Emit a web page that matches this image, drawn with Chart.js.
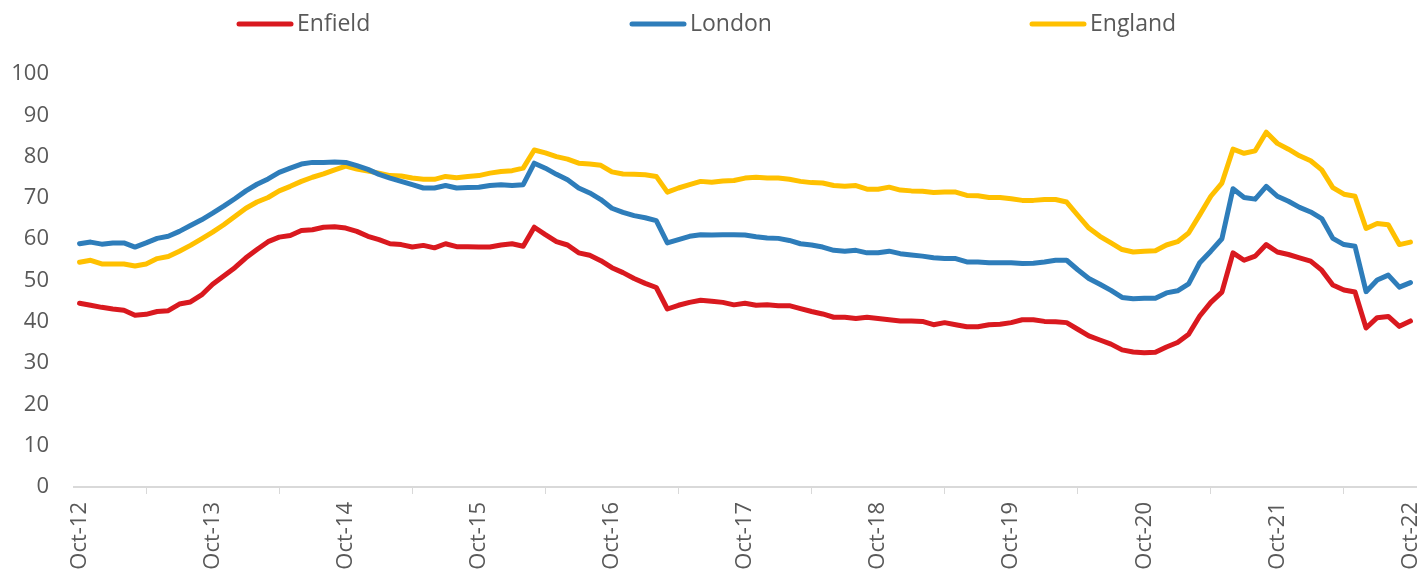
<!DOCTYPE html>
<html lang="en">
<head>
    <meta charset="UTF-8">
    <title>Enfield, London and England</title>
    <script src="https://cdn.jsdelivr.net/npm/chart.js"></script>
    <style>
        html, body {
            margin: 0;
            padding: 0;
            background: #ffffff;
        }
        .chart-box {
            width: 1421px;
            height: 574px;
        }
    </style>
</head>
<body>
    <div class="chart-box">
        <canvas id="lineChart"></canvas>
    </div>

    <script>
        // monthly series, Oct-12 to Oct-22
        const monthNames = ['Jan', 'Feb', 'Mar', 'Apr', 'May', 'Jun', 'Jul', 'Aug', 'Sep', 'Oct', 'Nov', 'Dec'];
        const startYear = 12;
        const startMonth = 9; // Oct

        const enfield = [
            44.5, 44.0, 43.5, 43.1, 42.8, 41.6, 41.8, 42.5, 42.7, 44.3, 44.8, 46.5,
            49.1, 51.1, 53.1, 55.5, 57.5, 59.4, 60.5, 60.9, 62.1, 62.3, 62.9, 63.0,
            62.7, 61.9, 60.7, 59.9, 58.9, 58.7, 58.1, 58.5, 57.9, 58.9, 58.2, 58.2,
            58.1, 58.1, 58.6, 58.9, 58.3, 62.9, 61.1, 59.4, 58.6, 56.7, 56.1, 54.8,
            53.1, 51.9, 50.5, 49.3, 48.3, 43.1, 44.0, 44.7, 45.2, 45.0, 44.7, 44.1,
            44.5, 44.0, 44.1, 43.9, 43.9, 43.2, 42.5, 41.9, 41.1, 41.1, 40.8, 41.1,
            40.8, 40.5, 40.2, 40.2, 40.1, 39.3, 39.8, 39.3, 38.8, 38.8, 39.3, 39.4,
            39.8, 40.5, 40.5, 40.1, 40.0, 39.8, 38.2, 36.6, 35.6, 34.6, 33.2, 32.7,
            32.5, 32.6, 33.9, 35.0, 37.0, 41.4, 44.7, 47.2, 56.7, 54.9, 55.9, 58.7,
            56.9, 56.3, 55.5, 54.7, 52.5, 48.9, 47.7, 47.2, 38.5, 41.0, 41.3, 38.9,
            40.2
        ];
        const london = [
            58.9, 59.3, 58.8, 59.1, 59.1, 58.1, 59.1, 60.2, 60.7, 61.9, 63.3, 64.7,
            66.3, 68.0, 69.8, 71.7, 73.3, 74.6, 76.2, 77.2, 78.2, 78.6, 78.6, 78.7,
            78.6, 77.8, 76.9, 75.7, 74.8, 74.0, 73.2, 72.4, 72.4, 73.0, 72.4, 72.5,
            72.6, 73.0, 73.2, 73.0, 73.2, 78.4, 77.2, 75.7, 74.4, 72.4, 71.2, 69.6,
            67.5, 66.5, 65.7, 65.2, 64.5, 59.1, 59.9, 60.7, 61.1, 61.0, 61.1, 61.1,
            61.0, 60.6, 60.3, 60.2, 59.7, 58.9, 58.6, 58.1, 57.3, 57.1, 57.3, 56.7,
            56.7, 57.1, 56.5, 56.2, 55.9, 55.5, 55.3, 55.3, 54.5, 54.5, 54.3, 54.3,
            54.3, 54.1, 54.2, 54.5, 54.9, 54.9, 52.6, 50.5, 49.1, 47.6, 45.9, 45.6,
            45.7, 45.7, 47.0, 47.5, 49.2, 54.3, 57.1, 60.1, 72.2, 70.1, 69.7, 72.8,
            70.4, 69.2, 67.7, 66.6, 65.0, 60.2, 58.7, 58.3, 47.3, 50.1, 51.3, 48.4,
            49.5
        ];
        const england = [
            54.4, 54.9, 54.0, 54.0, 54.0, 53.5, 54.0, 55.3, 55.8, 57.1, 58.5, 60.1,
            61.7, 63.5, 65.5, 67.5, 69.0, 70.1, 71.7, 72.8, 74.0, 75.0, 75.8, 76.8,
            77.7, 77.0, 76.5, 76.0, 75.4, 75.3, 74.8, 74.5, 74.5, 75.2, 74.9, 75.2,
            75.4, 76.0, 76.4, 76.6, 77.2, 81.6, 80.9, 80.0, 79.4, 78.4, 78.2, 77.9,
            76.3, 75.8, 75.7, 75.6, 75.2, 71.4, 72.4, 73.2, 74.0, 73.8, 74.1, 74.2,
            74.8, 75.0, 74.8, 74.8, 74.5, 74.0, 73.7, 73.6, 73.0, 72.8, 73.0, 72.1,
            72.1, 72.6, 71.9, 71.7, 71.6, 71.3, 71.4, 71.4, 70.6, 70.5, 70.1, 70.1,
            69.8, 69.4, 69.4, 69.6, 69.6, 69.0, 65.8, 62.7, 60.7, 59.1, 57.5, 56.9,
            57.1, 57.2, 58.6, 59.4, 61.5, 65.9, 70.4, 73.6, 81.8, 80.8, 81.4, 85.9,
            83.2, 81.8, 80.2, 79.0, 76.8, 72.5, 70.9, 70.4, 62.6, 63.8, 63.5, 58.7,
            59.3
        ];

        const labels = [];
        for (let i = 0; i < enfield.length; i++) {
            const m = (startMonth + i) % 12;
            const y = startYear + Math.floor((startMonth + i) / 12);
            labels.push(monthNames[m] + '-' + y);
        }

        const textColor = '#595959';
        const axisColor = '#d9d9d9';
        const fontFamily = '"Open Sans", sans-serif';

        // legend drawn like the excel one: spread across the top
        const legendSpots = [237, 630, 1030];
        const topLegend = {
            id: 'topLegend',
            afterDraw(chart) {
                const ctx = chart.ctx;
                ctx.save();
                ctx.font = '23px ' + fontFamily;
                ctx.textBaseline = 'middle';
                ctx.textAlign = 'left';
                chart.data.datasets.forEach((ds, i) => {
                    const x = legendSpots[i];
                    const y = 24;
                    ctx.strokeStyle = ds.borderColor;
                    ctx.lineWidth = 5;
                    ctx.lineCap = 'round';
                    ctx.beginPath();
                    ctx.moveTo(x + 2, y);
                    ctx.lineTo(x + 54, y);
                    ctx.stroke();
                    ctx.fillStyle = textColor;
                    ctx.fillText(ds.label, x + 60, y);
                });
                ctx.restore();
            }
        };

        const ctx = document.getElementById('lineChart').getContext('2d');
        const chart = new Chart(ctx, {
            type: 'line',
            data: {
                labels: labels,
                datasets: [
                    { label: 'Enfield', data: enfield, borderColor: '#d9191f' },
                    { label: 'London', data: london, borderColor: '#2e7dba' },
                    { label: 'England', data: england, borderColor: '#ffc000' }
                ]
            },
            options: {
                responsive: true,
                maintainAspectRatio: false,
                animation: false,
                layout: {
                    padding: { top: 74, left: 2, right: 5, bottom: 0 }
                },
                elements: {
                    line: {
                        borderWidth: 5,
                        tension: 0,
                        borderJoinStyle: 'round',
                        borderCapStyle: 'round'
                    },
                    point: { radius: 0, hoverRadius: 0 }
                },
                plugins: {
                    legend: { display: false },
                    tooltip: { enabled: false }
                },
                scales: {
                    x: {
                        offset: true,
                        grid: {
                            display: true,
                            offset: true,
                            drawOnChartArea: false,
                            drawTicks: true,
                            tickLength: 7,
                            color: axisColor
                        },
                        border: { color: axisColor, width: 2 },
                        ticks: {
                            autoSkip: false,
                            maxRotation: 90,
                            minRotation: 90,
                            padding: 8,
                            color: textColor,
                            font: { family: fontFamily, size: 22 },
                            callback: function(value, index) {
                                return index % 12 === 0 ? labels[index] : null;
                            }
                        },
                        afterFit: function(scale) {
                            // excel lets the end labels run to the edge
                            scale.paddingLeft = 0;
                            scale.paddingRight = 0;
                            scale.height = 87;
                        }
                    },
                    y: {
                        min: 0,
                        max: 100,
                        grid: { display: false, drawTicks: false },
                        border: { display: false },
                        ticks: {
                            stepSize: 10,
                            padding: 25,
                            color: textColor,
                            font: { family: fontFamily, size: 22 }
                        },
                        afterFit: function(scale) {
                            scale.width = 72;
                        }
                    }
                }
            },
            plugins: [topLegend]
        });
    </script>
</body>
</html>
